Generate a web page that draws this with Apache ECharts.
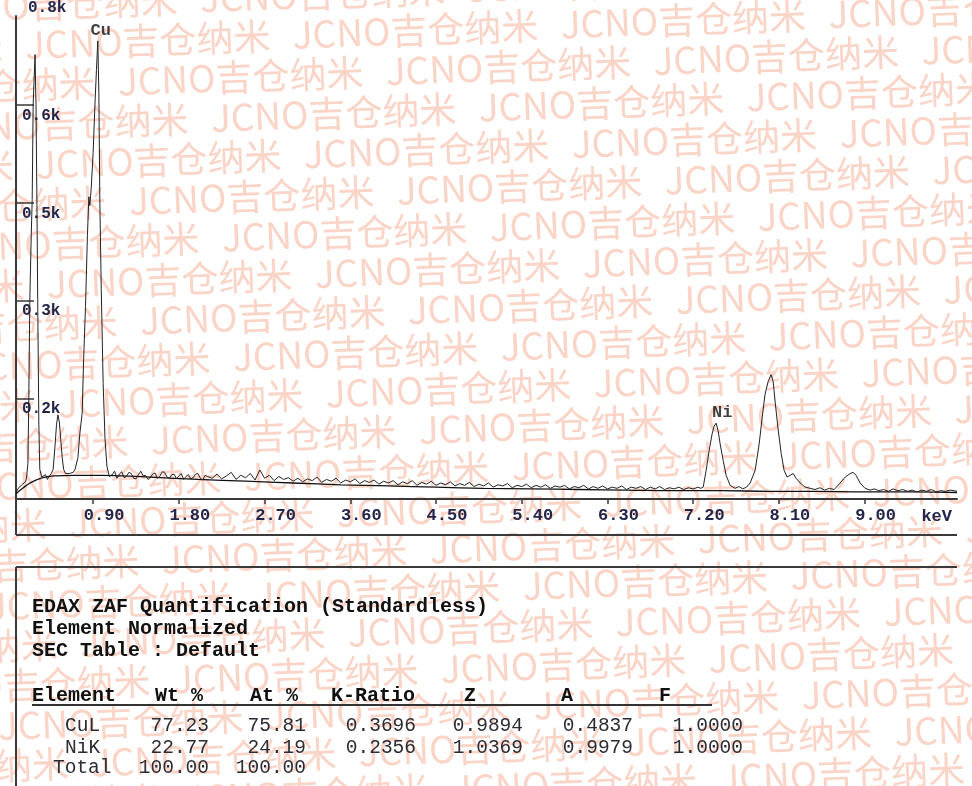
<!DOCTYPE html>
<html>
<head>
<meta charset="utf-8">
<script src="https://cdn.jsdelivr.net/npm/echarts@6/dist/echarts.min.js"></script>
<style>
html,body{margin:0;padding:0;background:#ffffff;}
#chart{width:972px;height:786px;}
</style>
</head>
<body>
<div id="chart"></div>
<script>
// ---------------- DATA ----------------
// EDS spectrum: [energy keV, counts]
const spectrum = [
  [0.09,6],[0.11,12],[0.13,11],[0.15,19],[0.17,17],[0.19,24],[0.20,30],[0.215,55],[0.225,170],[0.235,330],
  [0.25,440],[0.26,500],[0.27,660],[0.29,745],[0.30,660],[0.31,490],[0.318,330],[0.33,120],[0.34,45],[0.36,32],
  [0.38,30],[0.40,36],[0.42,28],[0.44,34],[0.46,38],[0.48,45],[0.50,85],[0.515,120],[0.53,137],[0.545,125],
  [0.56,95],[0.575,65],[0.59,45],[0.61,38],[0.63,37],[0.65,38],[0.67,37],[0.69,40],[0.71,45],[0.74,65],
  [0.76,105],[0.785,140],[0.80,230],[0.82,320],[0.84,440],[0.855,505],[0.865,490],[0.88,520],[0.90,580],[0.92,665],
  [0.935,720],[0.949,768],[0.96,680],[0.97,500],[0.985,350],[1.005,190],[1.025,95],[1.045,50],[1.07,33],
  [1.10,36],[1.125,42],[1.15,30],[1.175,37],[1.20,41],[1.225,31],[1.25,33],[1.275,40],[1.30,38],[1.325,30],
  [1.35,29],[1.375,36],[1.40,42],[1.425,34],[1.45,35],[1.475,28],[1.50,31],[1.525,37],[1.55,39],[1.575,30],
  [1.60,33],[1.625,41],[1.65,40],[1.675,32],[1.70,30],[1.725,36],[1.75,37],[1.775,29],[1.80,34],[1.825,38],
  [1.85,28],[1.875,33],[1.90,36],[1.925,29],[1.95,31],[1.975,37],[2.00,38],[2.025,30],[2.05,27],[2.075,35],
  [2.10,33],[2.15,30],[2.20,37],[2.25,29],[2.30,34],[2.35,40],[2.40,28],[2.45,35],[2.50,31],[2.55,38],
  [2.60,27],[2.65,44],[2.70,30],[2.75,35],[2.80,26],[2.85,33],[2.90,28],[2.95,31],[3.00,25],[3.05,30],
  [3.10,24],[3.15,29],[3.20,26],[3.25,32],[3.30,23],[3.35,28],[3.40,25],[3.45,30],[3.50,22],[3.55,27],
  [3.60,24],[3.65,29],[3.70,21],[3.75,26],[3.80,23],[3.85,27],[3.90,20],[3.95,25],[4.00,22],[4.05,26],
  [4.10,19],[4.15,24],[4.20,21],[4.25,26],[4.30,18],[4.35,23],[4.40,20],[4.45,25],[4.50,18],[4.55,22],
  [4.60,19],[4.65,24],[4.70,17],[4.75,21],[4.80,18],[4.85,23],[4.90,16],[4.95,20],[5.00,17],[5.05,22],
  [5.10,15],[5.15,19],[5.20,17],[5.25,21],[5.30,14],[5.35,18],[5.40,16],[5.45,20],[5.50,14],[5.55,18],
  [5.60,15],[5.65,19],[5.70,13],[5.75,17],[5.80,15],[5.85,18],[5.90,12],[5.95,16],[6.00,14],[6.05,18],
  [6.10,12],[6.15,16],[6.20,13],[6.25,17],[6.30,12],[6.35,15],[6.40,13],[6.45,17],[6.50,11],[6.55,15],
  [6.60,13],[6.65,16],[6.70,11],[6.75,15],[6.80,12],[6.85,16],[6.90,11],[6.95,14],[7.00,12],[7.05,15],
  [7.10,11],[7.15,14],[7.20,12],[7.25,15],[7.28,13],
  [7.305,15],[7.336,43],[7.368,77],[7.399,105],[7.42,118],[7.441,123],[7.462,110],[7.483,88],[7.515,60],[7.546,35],
  [7.588,18],[7.64,13],[7.68,16],[7.72,12],[7.76,15],[7.798,22],[7.85,43],[7.893,88],[7.924,132],[7.955,172],
  [7.987,193],[8.018,205],[8.04,193],[8.06,160],[8.09,115],[8.124,72],[8.155,43],[8.187,32],[8.218,35],[8.25,38],
  [8.281,30],[8.323,22],[8.376,15],[8.428,13],[8.48,11],[8.53,14],[8.58,10],[8.63,13],[8.68,11],[8.743,22],
  [8.796,32],[8.848,38],[8.88,40],[8.91,35],[8.953,22],[9.005,13],[9.058,10],[9.10,12],[9.15,9],[9.20,11],
  [9.25,8],[9.30,12],[9.35,9],[9.40,11],[9.45,8],[9.50,10],[9.55,7],[9.60,10],[9.65,8],[9.70,11],
  [9.75,7],[9.80,9],[9.85,8],[9.90,10],[9.97,8]
];
// fitted background: [energy keV, counts]
const background = [
  [0.09,4],[0.15,12],[0.20,18],[0.25,23],[0.30,27],[0.35,30],[0.40,32],[0.50,34],[0.70,35],[1.00,35],
  [1.20,34],[1.50,32],[2.00,28],[2.50,25],[3.00,22],[3.50,19],[4.00,17],[4.50,15],[5.00,13],[5.50,12],
  [6.00,11],[6.50,10],[7.00,9],[7.50,9],[8.00,8],[8.50,8],[9.00,7],[9.50,7],[9.97,6]
];
const xTickValues = [0.9,1.8,2.7,3.6,4.5,5.4,6.3,7.2,8.1,9.0];
const xTickLabels = ['0.90','1.80','2.70','3.60','4.50','5.40','6.30','7.20','8.10','9.00'];
const xUnit = 'keV';
const yTickValues = [165,330,495,660];
const yTickLabels = ['0.2k','0.3k','0.5k','0.6k'];
const yTopLabel = '0.8k';
const peakNames = ['Cu','Ni'];
const peakKeV = [0.949,7.441];
const peakCounts = [768,123];

const quantTitle = ['EDAX ZAF Quantification (Standardless)','Element Normalized','SEC Table : Default'];
const tableHeader = ['Element','Wt %','At %','K-Ratio','Z','A','F'];
const tableElements = ['CuL','NiK'];
const wtPercent = ['77.23','22.77'];
const atPercent = ['75.81','24.19'];
const kRatio = ['0.3696','0.2356'];
const zFactor = ['0.9894','1.0369'];
const aFactor = ['0.4837','0.9979'];
const fFactor = ['1.0000','1.0000'];
const totalLabel = 'Total';
const totals = ['100.00','100.00'];
const watermarkUnit = 'JCNO吉仓纳米';

// ---------------- LAYOUT ----------------
const mono = '"Liberation Mono","Courier New",monospace';
const axisColor = '#3a3a3a';
const labelColor = '#23264a';
function nearestLabel(values, labels, v){
  let best = 0;
  for (let i = 1; i < values.length; i++) if (Math.abs(values[i]-v) < Math.abs(values[best]-v)) best = i;
  return labels[best];
}

const graphics = [];
// watermark rows (each unit placed along a slightly tilted row)
const wmAngle = 2.2 * Math.PI / 180, wmPeriod = 268, wmGap = 40, wmShift = 93;
const cosA = Math.cos(wmAngle), sinA = Math.sin(wmAngle);
for (let r = -2; r <= 21; r++) {
  const yLeft = 45 + wmGap * r;
  const p = (((25 + wmShift * r) % wmPeriod) + wmPeriod) % wmPeriod;
  for (let k = -1; k <= 4; k++) {
    const d = p + k * wmPeriod - 25;     // distance along row from anchor x=25
    const x = 25 + d * cosA;
    const y = yLeft - d * sinA;
    graphics.push({type:'text', x:x, y:y, rotation:wmAngle, z:-10, silent:true,
      style:{text:watermarkUnit, fontSize:37, fontFamily:'"Noto Sans CJK SC"', fill:'#fad4c7', verticalAlign:'middle'}});
  }
}
// frames
const frameStyle = {stroke:axisColor, lineWidth:2};
graphics.push({type:'line', shape:{x1:16,y1:499,x2:16,y2:535}, style:frameStyle});
graphics.push({type:'line', shape:{x1:16,y1:535,x2:957,y2:535}, style:frameStyle});
graphics.push({type:'line', shape:{x1:16,y1:567,x2:957,y2:567}, style:frameStyle});
graphics.push({type:'line', shape:{x1:16,y1:567,x2:16,y2:790}, style:frameStyle});
// quantification text
const titleY = [607,629,651];
quantTitle.forEach((t,i)=>graphics.push({type:'text', x:32, y:titleY[i],
  style:{text:t, fontFamily:mono, fontSize:20, fontWeight:'bold', fill:'#111', verticalAlign:'middle'}}));
const headerX = [32,155,250,331,470,567,665];
const headerAlign = ['left','left','left','left','center','center','center'];
tableHeader.forEach((t,i)=>graphics.push({type:'text', x:headerX[i], y:696,
  style:{text:t, fontFamily:mono, fontSize:20, fontWeight:'bold', fill:'#111', align:headerAlign[i], verticalAlign:'middle'}}));
graphics.push({type:'line', shape:{x1:32,y1:705,x2:712,y2:705}, style:{stroke:'#333', lineWidth:2}});
const rowY = [726,748];
const colRight = [209,306,416,523,633,743];
const cols = [wtPercent, atPercent, kRatio, zFactor, aFactor, fFactor];
const rowStyle = {fontFamily:mono, fontSize:19.5, fill:'#2c2c34', verticalAlign:'middle'};
tableElements.forEach((el,i)=>{
  graphics.push({type:'text', x:65, y:rowY[i], style:Object.assign({text:el, align:'left'}, rowStyle)});
  cols.forEach((c,j)=>graphics.push({type:'text', x:colRight[j], y:rowY[i], style:Object.assign({text:c[i], align:'right'}, rowStyle)}));
});
graphics.push({type:'text', x:53, y:768, style:Object.assign({text:totalLabel, align:'left'}, rowStyle)});
totals.forEach((t,j)=>graphics.push({type:'text', x:colRight[j], y:768, style:Object.assign({text:t, align:'right'}, rowStyle)}));

const chart = echarts.init(document.getElementById('chart'), null, {renderer:'canvas'});
chart.setOption({
  animation:false,
  backgroundColor:'#ffffff',
  grid:{left:16, right:15, top:10, bottom:287, containLabel:false},
  xAxis:{
    type:'value', min:0.09, max:9.97,
    axisLine:{show:true, onZero:false, lineStyle:{color:axisColor, width:2}},
    axisTick:{show:true, customValues:xTickValues, length:5, lineStyle:{color:axisColor, width:1.5}},
    axisLabel:{show:true, customValues:xTickValues, margin:8, padding:[0,0,0,22],
      formatter:v=>nearestLabel(xTickValues, xTickLabels, v),
      fontFamily:mono, fontSize:17, fontWeight:'bold', color:labelColor},
    splitLine:{show:false},
    name:xUnit, nameLocation:'end', nameGap:-5,
    nameTextStyle:{align:'right', verticalAlign:'top', padding:[9,0,0,0], fontFamily:mono, fontSize:17, fontWeight:'bold', color:labelColor}
  },
  yAxis:{
    type:'value', min:-5, max:810,
    axisLine:{show:true, onZero:false, lineStyle:{color:axisColor, width:2}},
    axisTick:{show:true, inside:true, length:18, customValues:yTickValues, lineStyle:{color:axisColor, width:1.5}},
    axisLabel:{show:true, inside:true, customValues:yTickValues, margin:6, verticalAlign:'top', padding:[3,0,0,0],
      formatter:v=>nearestLabel(yTickValues, yTickLabels, v),
      fontFamily:mono, fontSize:16, fontWeight:'bold', color:labelColor},
    splitLine:{show:false},
    name:yTopLabel, nameLocation:'end', nameGap:8,
    nameTextStyle:{align:'left', verticalAlign:'middle', padding:[0,0,0,12], fontFamily:mono, fontSize:16, fontWeight:'bold', color:labelColor}
  },
  series:[
    {type:'line', name:'background', data:background, smooth:0.5, showSymbol:false, z:2,
      lineStyle:{color:'#111', width:1.3}},
    {type:'line', name:'spectrum', data:spectrum, showSymbol:false, z:3,
      lineStyle:{color:'#222', width:1}},
    {type:'scatter', name:'peaks', z:4, symbolSize:0,
      data:peakNames.map((n,i)=>[peakKeV[i], peakCounts[i], n]),
      label:{show:true, position:'top', distance:0, formatter:p=>p.value[2],
        fontFamily:mono, fontSize:17, fontWeight:'bold', color:'#111'},
      labelLayout:(params)=>({dx: params.dataIndex===0 ? 3 : 6, dy: -2})}
  ],
  graphic:graphics
});
</script>
</body>
</html>
